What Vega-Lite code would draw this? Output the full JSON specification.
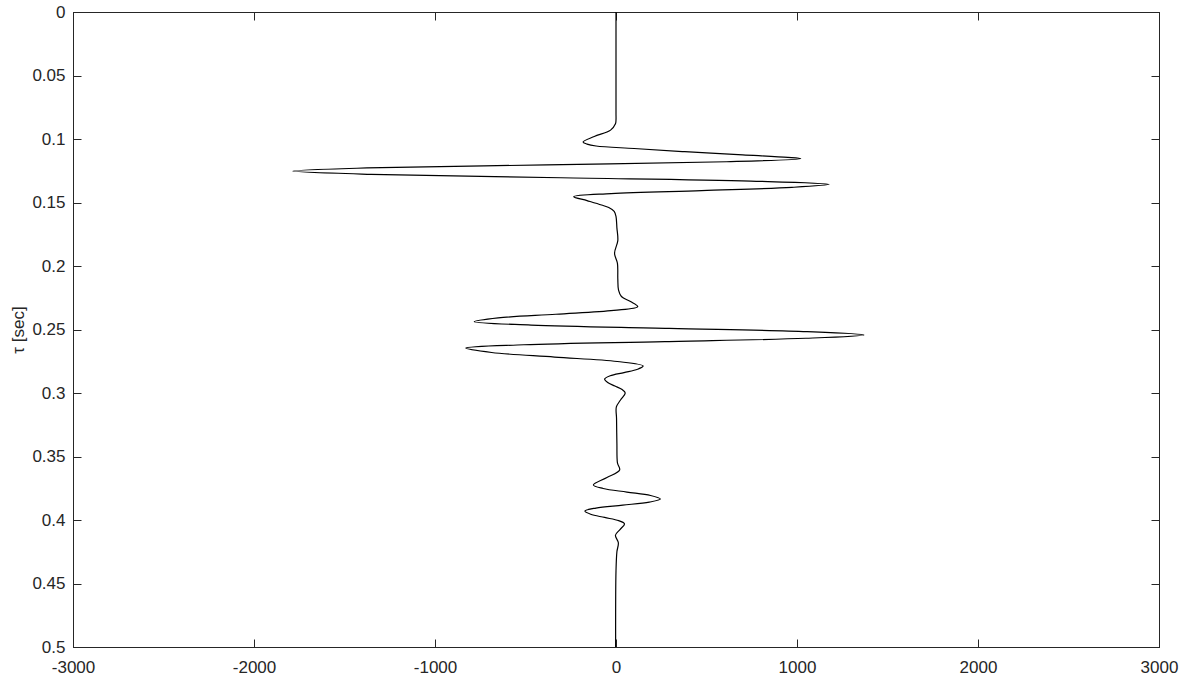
{
  "$schema": "https://vega.github.io/schema/vega-lite/v6.json",
  "width": 1086,
  "height": 635,
  "autosize": {"type": "none"},
  "padding": {"left": 73, "top": 12, "right": 20, "bottom": 29},
  "background": "white",
  "data": {"values": [
    {"tau": 0, "amp": 0}, {"tau": 0.04, "amp": 0}, {"tau": 0.08, "amp": 0}, {"tau": 0.085, "amp": 0},
    {"tau": 0.088, "amp": -3}, {"tau": 0.093, "amp": -30}, {"tau": 0.098, "amp": -120}, {"tau": 0.1024, "amp": -182},
    {"tau": 0.104, "amp": -160}, {"tau": 0.1055, "amp": -110}, {"tau": 0.1075, "amp": 100}, {"tau": 0.11, "amp": 380},
    {"tau": 0.1125, "amp": 700}, {"tau": 0.1145, "amp": 950}, {"tau": 0.1155, "amp": 1021}, {"tau": 0.1179, "amp": 611},
    {"tau": 0.1204, "amp": -383}, {"tau": 0.1228, "amp": -1376}, {"tau": 0.1252, "amp": -1786}, {"tau": 0.1278, "amp": -1353},
    {"tau": 0.1305, "amp": -304}, {"tau": 0.1331, "amp": 745}, {"tau": 0.1357, "amp": 1178}, {"tau": 0.1381, "amp": 972},
    {"tau": 0.1406, "amp": 473}, {"tau": 0.143, "amp": -27}, {"tau": 0.1454, "amp": -233}, {"tau": 0.1485, "amp": -160},
    {"tau": 0.152, "amp": -80}, {"tau": 0.154, "amp": -40}, {"tau": 0.157, "amp": -10}, {"tau": 0.161, "amp": 0},
    {"tau": 0.17, "amp": 5}, {"tau": 0.18, "amp": 10}, {"tau": 0.19, "amp": -8}, {"tau": 0.198, "amp": 8},
    {"tau": 0.21, "amp": 10}, {"tau": 0.219, "amp": 14}, {"tau": 0.224, "amp": 30}, {"tau": 0.228, "amp": 80},
    {"tau": 0.232, "amp": 120}, {"tau": 0.235, "amp": -12}, {"tau": 0.238, "amp": -332}, {"tau": 0.2409, "amp": -651},
    {"tau": 0.2439, "amp": -783}, {"tau": 0.2465, "amp": -469}, {"tau": 0.2491, "amp": 294}, {"tau": 0.2517, "amp": 1056},
    {"tau": 0.2543, "amp": 1370}, {"tau": 0.2569, "amp": 1049}, {"tau": 0.2595, "amp": 270}, {"tau": 0.262, "amp": -509},
    {"tau": 0.2646, "amp": -830}, {"tau": 0.2681, "amp": -687}, {"tau": 0.2717, "amp": -340}, {"tau": 0.2752, "amp": 7},
    {"tau": 0.2787, "amp": 150}, {"tau": 0.2813, "amp": 119}, {"tau": 0.2839, "amp": 44}, {"tau": 0.2864, "amp": -32},
    {"tau": 0.289, "amp": -63}, {"tau": 0.2918, "amp": -46}, {"tau": 0.2945, "amp": -6}, {"tau": 0.2973, "amp": 34},
    {"tau": 0.3, "amp": 51}, {"tau": 0.3055, "amp": 25}, {"tau": 0.311, "amp": 2}, {"tau": 0.32, "amp": 3},
    {"tau": 0.34, "amp": 5}, {"tau": 0.355, "amp": 8}, {"tau": 0.3606, "amp": 20}, {"tau": 0.3665, "amp": -50},
    {"tau": 0.3724, "amp": -125}, {"tau": 0.3752, "amp": -71}, {"tau": 0.378, "amp": 60}, {"tau": 0.3807, "amp": 191},
    {"tau": 0.3835, "amp": 245}, {"tau": 0.3859, "amp": 184}, {"tau": 0.3883, "amp": 37}, {"tau": 0.3906, "amp": -111},
    {"tau": 0.393, "amp": -172}, {"tau": 0.3955, "amp": -140}, {"tau": 0.398, "amp": -63}, {"tau": 0.4005, "amp": 15},
    {"tau": 0.403, "amp": 47}, {"tau": 0.4075, "amp": 22}, {"tau": 0.412, "amp": -3}, {"tau": 0.418, "amp": 13},
    {"tau": 0.425, "amp": 5}, {"tau": 0.44, "amp": 0}, {"tau": 0.5, "amp": -2}
  ]},
  "layer": [
    {
      "mark": {"type": "line", "color": "#000000", "strokeWidth": 1.2, "interpolate": "catmull-rom", "clip": true},
      "encoding": {
        "x": {"field": "amp", "type": "quantitative",
              "scale": {"domain": [-3000, 3000], "nice": false, "zero": false},
              "axis": {"orient": "bottom", "title": null, "values": [-3000, -2000, -1000, 0, 1000, 2000, 3000],
                       "format": "d",
                       "labelExpr": "replace(datum.label, '\u2212', '-')", "labelPadding": 20, "labelFlush": false}},
        "y": {"field": "tau", "type": "quantitative",
              "scale": {"domain": [0, 0.5], "reverse": true, "nice": false, "zero": false},
              "axis": {"orient": "left", "title": "τ [sec]", "format": "~g",
                       "values": [0, 0.05, 0.1, 0.15, 0.2, 0.25, 0.3, 0.35, 0.4, 0.45, 0.5],
                       "labelPadding": 16, "titlePadding": 4, "labelFlush": false}},
        "order": {"field": "tau", "type": "quantitative"}
      }
    },
    {
      "mark": {"type": "line", "strokeOpacity": 0},
      "encoding": {
        "x": {"field": "amp", "type": "quantitative",
              "axis": {"orient": "top", "title": null, "labels": false, "values": [-3000, -2000, -1000, 0, 1000, 2000, 3000]}},
        "y": {"field": "tau", "type": "quantitative",
              "axis": {"orient": "right", "title": null, "labels": false,
                       "values": [0, 0.05, 0.1, 0.15, 0.2, 0.25, 0.3, 0.35, 0.4, 0.45, 0.5]}},
        "order": {"field": "tau", "type": "quantitative"}
      }
    }
  ],
  "resolve": {"axis": {"x": "independent", "y": "independent"}},
  "config": {
    "view": {"stroke": "#262626", "strokeWidth": 1},
    "axis": {
      "grid": false,
      "domainColor": "#262626",
      "tickColor": "#262626",
      "labelColor": "#262626",
      "titleColor": "#262626",
      "labelFont": "Liberation Sans",
      "titleFont": "Liberation Sans",
      "labelFontSize": 17,
      "titleFontSize": 17,
      "titleFontWeight": "normal",
      "tickSize": -8,
      "tickWidth": 1,
      "domainWidth": 1
    }
  }
}
